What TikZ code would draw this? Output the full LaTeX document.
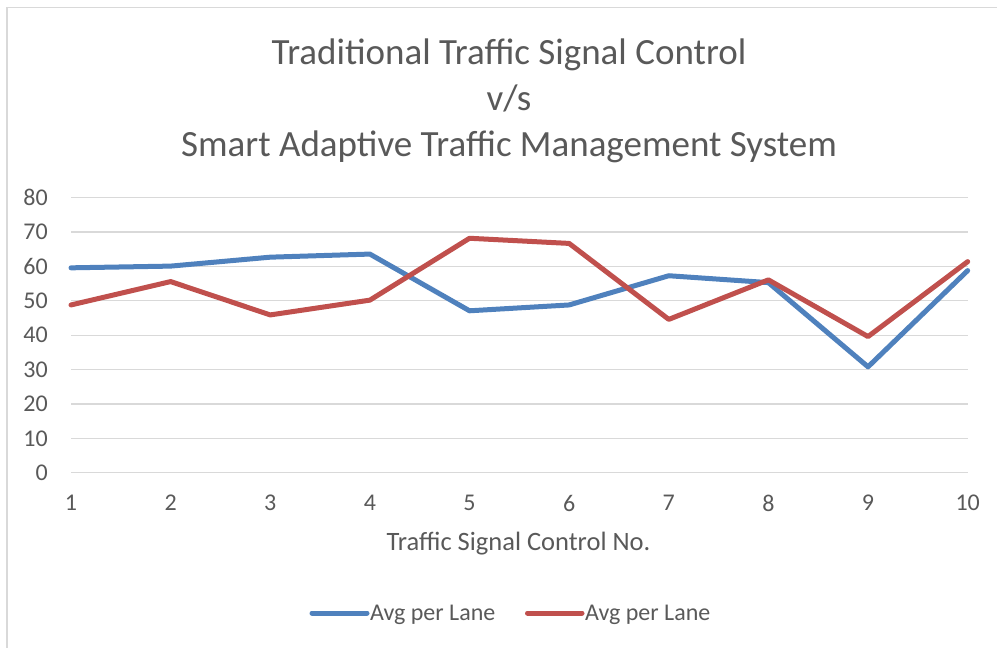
\documentclass[tikz,border=0pt]{standalone}
\usepackage{fontspec}
\setmainfont{Carlito}
\usetikzlibrary{positioning}

\definecolor{txtgray}{HTML}{595959}
\definecolor{gridgray}{HTML}{D9D9D9}
\definecolor{serblue}{HTML}{4F81BD}
\definecolor{serred}{HTML}{C0504D}

\begin{document}
\begin{tikzpicture}[x=1pt, y=-1pt,
  gridline/.style={draw=gridgray, line width=1.3pt},
  ticklabel/.style={text=txtgray, font=\fontsize{24}{28}\selectfont, inner sep=0pt},
  series/.style={line width=5pt, line join=round, line cap=round}]

\useasboundingbox (0,0) rectangle (997,648);

% chart frame (only left and top edges show)
\draw[draw=gridgray, line width=1.6pt] (7,648) -- (7,7.5) -- (997,7.5);

% title
\node[align=center, text=txtgray, font=\fontsize{37}{46}\selectfont] (title) at (509,101)
  {Traditional Traffic Signal Control\\v/s\\Smart Adaptive Traffic Management System};

% horizontal gridlines and y labels
\foreach \v in {0,10,...,80} {
  \coordinate (gl\v) at (71,{472.7-3.4375*\v});
  \coordinate (gr\v) at (967.7,{472.7-3.4375*\v});
  \draw[gridline] (gl\v) -- (gr\v);
  \node[ticklabel, anchor=east] (ylab\v) at (48,{472.7-3.4375*\v}) {\v};
}

% x labels
\foreach \i in {1,...,10} {
  \node[ticklabel] (xlab\i) at ({71+99.63*(\i-1)},503) {\i};
}

\node[ticklabel, font=\fontsize{26.5}{30}\selectfont] (xtitle) at (518.5,544) {Traffic Signal Control No.};

% data points
\foreach \v [count=\i] in {59.6,60.1,62.7,63.6,47.1,48.8,57.3,55.3,30.8,58.8}
  \coordinate (b\i) at ({71+99.63*(\i-1)},{472.7-3.4375*\v});
\foreach \v [count=\i] in {48.8,55.6,45.9,50.2,68.2,66.7,44.6,56.1,39.6,61.4}
  \coordinate (r\i) at ({71+99.63*(\i-1)},{472.7-3.4375*\v});

\draw[series, serblue] (b1) \foreach \i in {2,...,10} {-- (b\i)};
\draw[series, serred] (r1) \foreach \i in {2,...,10} {-- (r\i)};

% legend
\coordinate (lb1) at (312,613);
\coordinate (lb2) at (367,613);
\coordinate (lr1) at (527.5,613);
\coordinate (lr2) at (582,613);
\draw[series, serblue] (lb1) -- (lb2);
\draw[series, serred] (lr1) -- (lr2);
\node[ticklabel, anchor=west, right=3pt of lb2, yshift=-2pt] (lbtext) {Avg per Lane};
\node[ticklabel, anchor=west, right=3pt of lr2, yshift=-2pt] (lrtext) {Avg per Lane};

\end{tikzpicture}
\end{document}
